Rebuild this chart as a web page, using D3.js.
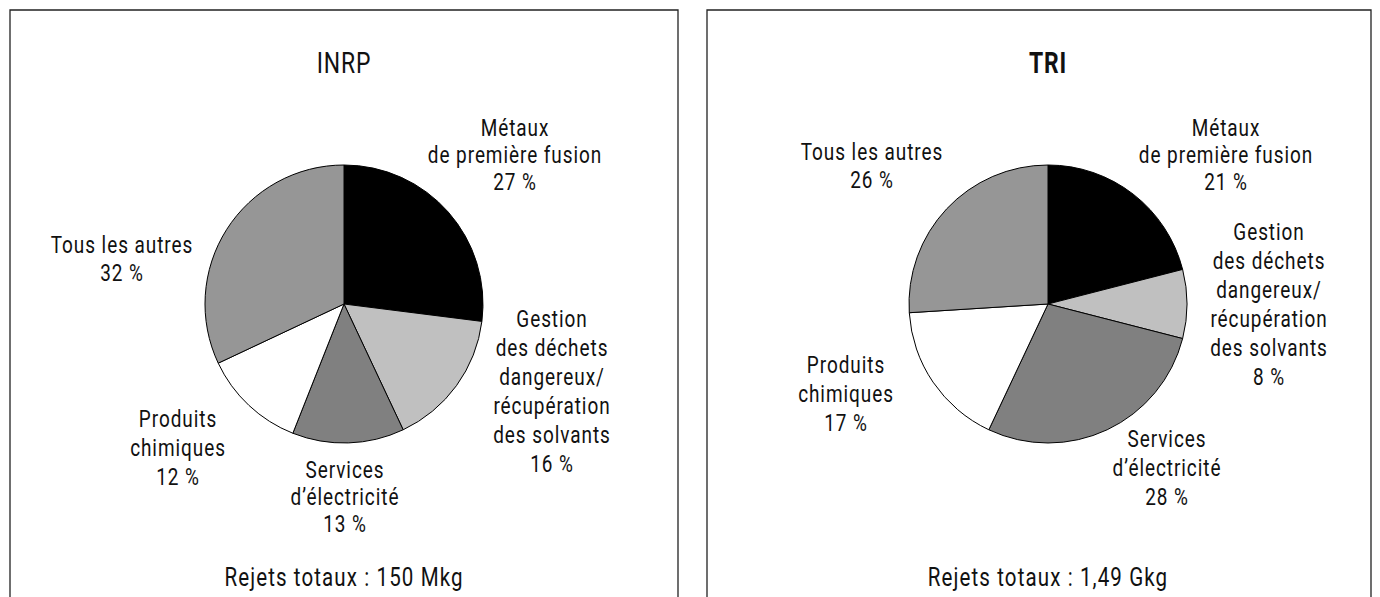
<!DOCTYPE html>
<html>
<head>
<meta charset="utf-8">
<script src="https://cdn.jsdelivr.net/npm/d3@7"></script>
<style>
  body { margin: 0; background: #fff; }
  text { font-family: Roboto, "Liberation Sans", sans-serif; fill: #111; }
</style>
</head>
<body>
<div id="chart"></div>
<script>
// categories, clockwise from 12 o'clock
var categories = ["Métaux de première fusion", "Gestion des déchets dangereux/récupération des solvants",
                  "Services d’électricité", "Produits chimiques", "Tous les autres"];
var labelLines = [["Métaux", "de première fusion"],
                  ["Gestion", "des déchets", "dangereux/", "récupération", "des solvants"],
                  ["Services", "d’électricité"],
                  ["Produits", "chimiques"],
                  ["Tous les autres"]];
var inrpValues = [27, 16, 13, 12, 32];
var triValues = [21, 8, 28, 17, 26];
var panelTitles = ["INRP", "TRI"];
var totals = ["Rejets totaux : 150 Mkg", "Rejets totaux : 1,49 Gkg"];
var fills = ["#000000", "#c0c0c0", "#808080", "#ffffff", "#969696"];

// label anchors (centre x, first baseline, line step) for each panel
var labelPosINRP = [[515, 136, 27], [552, 327, 29], [345, 478, 27], [178, 427, 29], [122, 253, 28]];
var labelPosTRI = [[1226, 136, 27], [1269, 240, 29], [1167, 447, 29], [846, 373, 29], [872, 160, 28]];

var W = 1380, H = 597;
var svg = d3.select("#chart").append("svg")
    .attr("width", W)
    .attr("height", H);

var panels = [
    { title: panelTitles[0], values: inrpValues, total: totals[0], box: [10, 678], cx: 344, labels: labelPosINRP, bold: false },
    { title: panelTitles[1], values: triValues, total: totals[1], box: [707, 1371], cx: 1048, labels: labelPosTRI, bold: true }
];

var radius = 139, cy = 304;
var squeeze = 0.79;   // fake a condensed face

var pie = d3.pie().sort(null).value(function (d) { return d; });
var arc = d3.arc().innerRadius(0).outerRadius(radius);

function condensed(x, y, size, spacing) {
    return svg.append("text")
        .attr("transform", "translate(" + x + "," + y + ") scale(" + squeeze + ",1)")
        .style("font-size", size + "px")
        .style("letter-spacing", spacing + "px")
        .style("text-anchor", "middle");
}

panels.forEach(function (p) {
    // frame, open at the bottom
    svg.append("path")
        .attr("d", "M" + p.box[0] + "," + (H + 5) + "V10H" + p.box[1] + "V" + (H + 5))
        .attr("fill", "none")
        .attr("stroke", "#222")
        .attr("stroke-width", 1.3);

    condensed(p.cx, 73, 29, 1)
        .style("font-weight", p.bold ? "bold" : "normal")
        .text(p.title);

    var g = svg.append("g")
        .attr("transform", "translate(" + p.cx + "," + cy + ")");

    g.selectAll("path")
        .data(pie(p.values))
        .enter()
        .append("path")
        .attr("d", arc)
        .attr("fill", function (d, i) { return fills[i]; })
        .attr("stroke", "#000")
        .attr("stroke-width", 1);

    p.values.forEach(function (v, i) {
        var lines = labelLines[i].concat([v + " %"]);
        var pos = p.labels[i];
        var t = condensed(pos[0], pos[1], 24, 1.2);
        lines.forEach(function (l, k) {
            t.append("tspan")
                .attr("x", 0)
                .attr("y", k * pos[2])
                .text(l);
        });
    });

    condensed(p.cx, 586, 26, 1.4).text(p.total);
});
</script>
</body>
</html>
